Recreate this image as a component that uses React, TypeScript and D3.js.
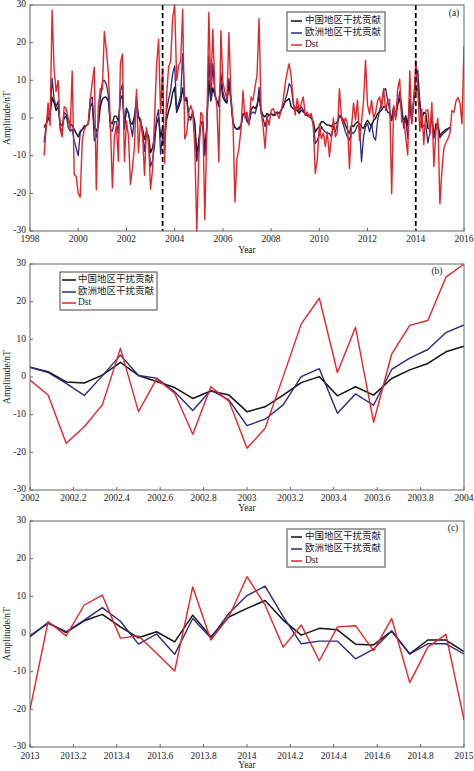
import React from "react";
import * as d3 from "d3";

const W = 474;
const H = 771;
const FONT = "'Liberation Serif','Times New Roman','Noto Sans CJK SC',serif";
const C_BLACK = "#111111";
const C_BLUE = "#2b2a80";
const C_RED = "#e2262b";

const LEGEND_LABELS = ["中国地区干扰贡献", "欧洲地区干扰贡献", "Dst"];
const Y_TICKS = [-30, -20, -10, 0, 10, 20, 30];
const TICKS_A = [1998, 2000, 2002, 2004, 2006, 2008, 2010, 2012, 2014, 2016];
const TICKS_B = [2002, 2002.2, 2002.4, 2002.6, 2002.8, 2003, 2003.2, 2003.4, 2003.6, 2003.8, 2004];
const TICKS_C = [2013, 2013.2, 2013.4, 2013.6, 2013.8, 2014, 2014.2, 2014.4, 2014.6, 2014.8, 2015];
const DASH_YEARS = [2003.5, 2014];

// Panel (b): monthly 2002.0 - 2004.0
const chinaB = [2.6, 1.4, -1.3, -1.6, 0.5, 3.9, 0.4, -1.2, -2.8, -5.7, -3.7, -4.8,
  -9.2, -7.9, -4.8, -1.5, 0.1, -5.0, -2.6, -4.8, -0.4, 1.9, 3.6, 6.7, 8.2];
const europeB = [2.6, 1.2, -1.7, -4.9, 0.3, 5.8, 0.4, -0.3, -3.9, -8.9, -3.5, -6.1,
  -12.9, -11.2, -7.4, 0.1, 2.2, -9.6, -4.5, -7.5, 2.0, 5.0, 7.3, 11.8, 13.8];
const dstB = [-0.8, -4.8, -17.6, -13.2, -7.4, 7.6, -9.2, -0.5, -4.3, -15.2, -2.6, -6.4,
  -18.9, -13.6, 0.1, 14.1, 20.9, 1.2, 13.2, -12.0, 6.1, 13.7, 15.0, 26.5, 30];

// Panel (c): monthly 2013.0 - 2015.0
const chinaC = [-0.7, 3.0, 0.4, 3.5, 5.2, 1.9, -1.0, 0.6, -2.1, 5.0, -0.7, 4.5,
  6.8, 8.9, 3.7, -0.3, 1.5, 1.1, -2.7, -2.9, 0.8, -5.3, -1.6, -1.6, -4.7];
const europeC = [-0.4, 2.8, 0.6, 3.7, 7.0, 3.4, -2.7, 0.0, -5.4, 4.1, -1.1, 5.5,
  10.2, 12.7, 4.6, -2.6, -1.9, -1.9, -6.6, -4.0, 0.8, -5.3, -2.6, -2.6, -5.3];
const dstC = [-20.1, 3.3, -0.5, 7.7, 10.3, -1.1, -0.5, -5.1, -9.8, 12.5, -1.6, 4.6,
  15.2, 7.7, -3.5, 2.4, -7.1, 1.9, 2.2, -4.4, 4.1, -12.9, -3.5, -0.1, -22.8];

// Panel (a): monthly from 1998 Aug, pieces before / between / after panels (b) and (c)
const dstA1 = [-10, -3, 4, -2, 28.6, 13, 7, 10, -3, -5, 3, 2.5,
  0, -3, 12.5, -15, -15.5, -20, -21, -6, -3, -2, -1.5, 5,
  9.5, 13.5, -19, 3, 7.8, 7.5, 23, 18, 12, -1.5, -18.5, -5,
  -2, -11.5, 14.5, 17, -11.5];
const chinaA1 = [-2.5, -1.5, -0.5, 1, 5.5, 4, 2, 3, -1.5, -2, 0, 0.5,
  -0.5, -1.5, -2, -3, -4, -5, -3.5, -3, -2.5, -2, -1.5, 3,
  4, -3, -3.5, -2, 3, 5, 5.5, 5.5, 4.5, -1, -1.5, 0.5,
  0.5, -1, 5, 6, -2];
const europeA1 = [-6.5, -2, 1, 1.5, 10.5, 5, 3, 4.5, -2.5, -3.5, 1.5, 1,
  -2.5, -3.5, -3, -6, -8, -10, -4, -3, -2, -2, -1.5, 5,
  5.5, -6, -5, -2, 5, 9.5, 10, 9, 6, -3, -3.5, -1,
  -1, -4, 7, 9, -3];

const dstA2 = [10, 14, 15, 28.8, -5.5, -4, 1.5, 3.3, 1.5, -7.3, -30, -11,
  1.5, 0.5, -27, -4, 28, 8, 23.6, 7.5, 3.3, -11.7, 23.2, 9.5,
  7, 5, 22.7, 6, -0.5, -22.3, -10.8, -8, -3, 7.3, 0, 1.6,
  -1.9, 5.6, 4.7, 8.3, 11.4, 26.4, 2, -2.3, -8.1, 0.3, -1.9, 2,
  2.5, 1.2, 1.2, -0.1, 2, 4.7, 9.1, 12.2, 14.4, 10.9, 4.7, 0.8,
  5.2, 2, 3.8, 5.6, 0.8, 1.6, 0.3, 1.2, -2.3, -14.7, -11, -1.5,
  -5.5, -4, -7.6, -3.7, -10.3, -5.5, 0, -5, -3.7, 7.8, 0.3, -1.5,
  0, -1.5, -13.4, -2.5, 4, -0.5, 4.7, -5.9, -1, 4.5, 15.3, 3.5,
  1, 4.7, 0, 1.5, 4.5, 5.6, 2.5, 7.8, 2, 4.7, 5];
const chinaA2 = [1.5, 3, 4.5, 8, 4.5, 5, 0.5, 0, 1, -1, -9.5, -6,
  -1.5, -1, -9, -2, 10, 4.5, 8, 6, 4.5, 4, 9.5, 5.5,
  4.5, 4, 9.5, 4.5, -1, -2.5, -3, -2.5, -2, 1, 1, -0.6,
  -1, 2.1, 3, 2.5, 3.4, 5.6, 2.1, 0.7, 0.3, 1.2, 0.7, 1.2,
  0.7, 1.2, 1.6, 1.2, 2.1, 3, 4.3, 4.7, 5.2, 3, 2.5, 2.1,
  2.1, 1.2, 2.1, 1.6, 1.2, 0.7, 0.3, -0.1, -1, -3.7, -2.8, -2.3,
  -1, -1, -1.5, -1.9, -1.9, -2.3, -1.5, -1.5, -1, 0.7, 0.3, -0.6,
  -1.9, -3.2, -4.1, -1.9, -2.3, -1.5, -1, -1.5, -2.3, -2.8, -1.5, -0.6,
  -1.5, -2.3, -0.6, -0.1, 1.2, 1.6, 2.1, 3, 3, 1.6, 1.2];
const europeA2 = [2, 4, 6, 17, 5, 5.5, -0.5, -0.5, 2, -2, -11.5, -7.5,
  -1, -1.5, -10, -3, 16.5, 5, 14.5, 6, 4.5, 3, 12, 7,
  5, 4.5, 10.5, 5, -1.5, -2.5, -3, -3, -2.5, 1, 1.5, -1,
  -1.5, 1.2, 1.6, 1.2, 3, 8.1, 1.2, -0.1, -2.3, 0.3, 0.7, 1.2,
  0.7, 0.7, 1.6, 1.2, 2.1, 3, 4.7, 6.5, 9.1, 8.3, 3.8, 2.5,
  3, 1.6, 3, 2.1, 0.7, 0.7, 0.7, 0.3, -1.5, -6.8, -5.9, -4.5,
  -2.3, -3.2, -3.7, -4.1, -4.1, -5, -2.3, -3.7, -1.5, 0.7, -0.1, -1.9,
  -3.7, -5, -5.9, -3.7, -4.1, -3.2, -1.9, -2.3, -11.6, -5, -2.3, -1.5,
  -3.7, -1.5, -5, -5.9, -0.6, 2.1, 3.8, 7.4, 7.8, 4.7, 2.1];

const dstA3 = [-14, -8, -6.5, -5.5, -4, 2, 1.5, 4.5, 5.5, 4, -1.5, 19];
const chinaA3 = [-4, -3.5, -3, -2.8, -2.5];
const europeA3 = [-4.5, -4, -3.5, -3, -2.5];

const START_A = 1998 + 7 / 12;

const dstA = [...dstA1, ...dstB, ...dstA2, ...dstC, ...dstA3];
const chinaA = [...chinaA1, ...chinaB, ...chinaA2, ...chinaC, ...chinaA3];
const europeA = [...europeA1, ...europeB, ...europeA2, ...europeC, ...europeA3];

type Pt = [number, number];
const toPts = (vals: number[], start: number): Pt[] => vals.map((v, i) => [start + i / 12, v]);

type Legend = { x: number; y: number; w: number; h: number; rows: number[]; lineX0: number; lineX1: number; textX: number };

type PanelProps = {
  top: number;
  bottom: number;
  domain: [number, number];
  ticks: number[];
  tickY: number;
  yearY: number;
  series: { pts: Pt[]; color: string; width: number }[];
  legend: Legend;
  label: string;
  labelX: number;
  labelY: number;
  dashes?: number[];
};

const L = 30;
const R = 464;
const FS = 9.5;

function Panel(p: PanelProps) {
  const x = d3.scaleLinear().domain(p.domain).range([L, R]);
  const y = d3.scaleLinear().domain([-30, 30]).range([p.bottom, p.top]);
  const line = d3.line<Pt>().x((d) => x(d[0])).y((d) => y(d[1]));
  const colors = [C_BLACK, C_BLUE, C_RED];
  const cid = `clip-${p.label.replace(/[()]/g, "")}`;
  return (
    <g>
      <defs>
        <clipPath id={cid}>
          <rect x={L} y={p.top - 1} width={R - L} height={p.bottom - p.top + 2} />
        </clipPath>
      </defs>
      <g clipPath={`url(#${cid})`}>
        {p.series.map((s, i) => (
          <path key={i} d={line(s.pts) || ""} fill="none" stroke={s.color} strokeWidth={s.width} strokeLinejoin="round" />
        ))}
      </g>
      {(p.dashes || []).map((d, i) => (
        <line key={i} x1={x(d)} x2={x(d)} y1={p.top} y2={p.bottom} stroke="#000" strokeWidth={1.7} strokeDasharray="5,3" />
      ))}
      <rect x={L} y={p.top} width={R - L} height={p.bottom - p.top} fill="none" stroke="#666" strokeWidth={1} />
      {p.ticks.map((t, i) => (
        <g key={i}>
          <line x1={x(t)} x2={x(t)} y1={p.bottom} y2={p.bottom - 3} stroke="#666" />
          <text x={x(t)} y={p.tickY} textAnchor="middle" dominantBaseline="middle" fontSize={FS} fontFamily={FONT} fill="#222">
            {String(+t.toFixed(1))}
          </text>
        </g>
      ))}
      {Y_TICKS.map((t, i) => (
        <g key={i}>
          <line x1={L} x2={L + 3} y1={y(t)} y2={y(t)} stroke="#666" />
          <text x={26} y={y(t)} textAnchor="end" dominantBaseline="middle" fontSize={FS} fontFamily={FONT} fill="#222">
            {t}
          </text>
        </g>
      ))}
      <text x={247} y={p.yearY} textAnchor="middle" dominantBaseline="middle" fontSize={FS} fontFamily={FONT} fill="#222">
        Year
      </text>
      <text
        transform={`translate(8,${(p.top + p.bottom) / 2}) rotate(-90)`}
        textAnchor="middle"
        dominantBaseline="middle"
        fontSize={FS}
        fontFamily={FONT}
        fill="#222"
      >
        Amplitude/nT
      </text>
      <text x={p.labelX} y={p.labelY} textAnchor="middle" dominantBaseline="middle" fontSize={FS} fontFamily={FONT} fill="#222">
        {p.label}
      </text>
      <rect x={p.legend.x} y={p.legend.y} width={p.legend.w} height={p.legend.h} fill="#fff" stroke="#444" strokeWidth={1} />
      {LEGEND_LABELS.map((lab, i) => (
        <g key={i}>
          <line x1={p.legend.lineX0} x2={p.legend.lineX1} y1={p.legend.rows[i]} y2={p.legend.rows[i]} stroke={colors[i]} strokeWidth={1.5} />
          <text x={p.legend.textX} y={p.legend.rows[i]} dominantBaseline="middle" fontSize={FS} fontFamily={FONT} fill="#222">
            {lab}
          </text>
        </g>
      ))}
    </g>
  );
}

export default function App() {
  const seriesA = [
    { pts: toPts(chinaA, START_A), color: C_BLACK, width: 1.4 },
    { pts: toPts(europeA, START_A), color: C_BLUE, width: 1.3 },
    { pts: toPts(dstA, START_A), color: C_RED, width: 1.4 },
  ];
  const seriesB = [
    { pts: toPts(chinaB, 2002), color: C_BLACK, width: 1.5 },
    { pts: toPts(europeB, 2002), color: C_BLUE, width: 1.4 },
    { pts: toPts(dstB, 2002), color: C_RED, width: 1.4 },
  ];
  const seriesC = [
    { pts: toPts(chinaC, 2013), color: C_BLACK, width: 1.5 },
    { pts: toPts(europeC, 2013), color: C_BLUE, width: 1.4 },
    { pts: toPts(dstC, 2013), color: C_RED, width: 1.4 },
  ];
  return (
    <svg width={W} height={H} style={{ position: "absolute", left: 0, top: 0, background: "#fff" }}>
      <rect x={0} y={0} width={W} height={H} fill="#fff" />
      <Panel
        top={5}
        bottom={231}
        domain={[1998, 2016]}
        ticks={TICKS_A}
        tickY={240}
        yearY={251}
        series={seriesA}
        legend={{ x: 287, y: 12, w: 98, h: 39, rows: [21, 33, 45], lineX0: 291, lineX1: 302, textX: 305 }}
        label="(a)"
        labelX={454}
        labelY={14}
        dashes={DASH_YEARS}
      />
      <Panel
        top={264}
        bottom={490}
        domain={[2002, 2004]}
        ticks={TICKS_B}
        tickY={499}
        yearY={509}
        series={seriesB}
        legend={{ x: 60, y: 272, w: 97, h: 38, rows: [280, 292, 303], lineX0: 62, lineX1: 76, textX: 78 }}
        label="(b)"
        labelX={437}
        labelY={272}
      />
      <Panel
        top={521}
        bottom={747}
        domain={[2013, 2015]}
        ticks={TICKS_C}
        tickY={757}
        yearY={766}
        series={seriesC}
        legend={{ x: 287, y: 529, w: 98, h: 38, rows: [537, 549, 561], lineX0: 291, lineX1: 302, textX: 305 }}
        label="(c)"
        labelX={453}
        labelY={529}
      />
    </svg>
  );
}
